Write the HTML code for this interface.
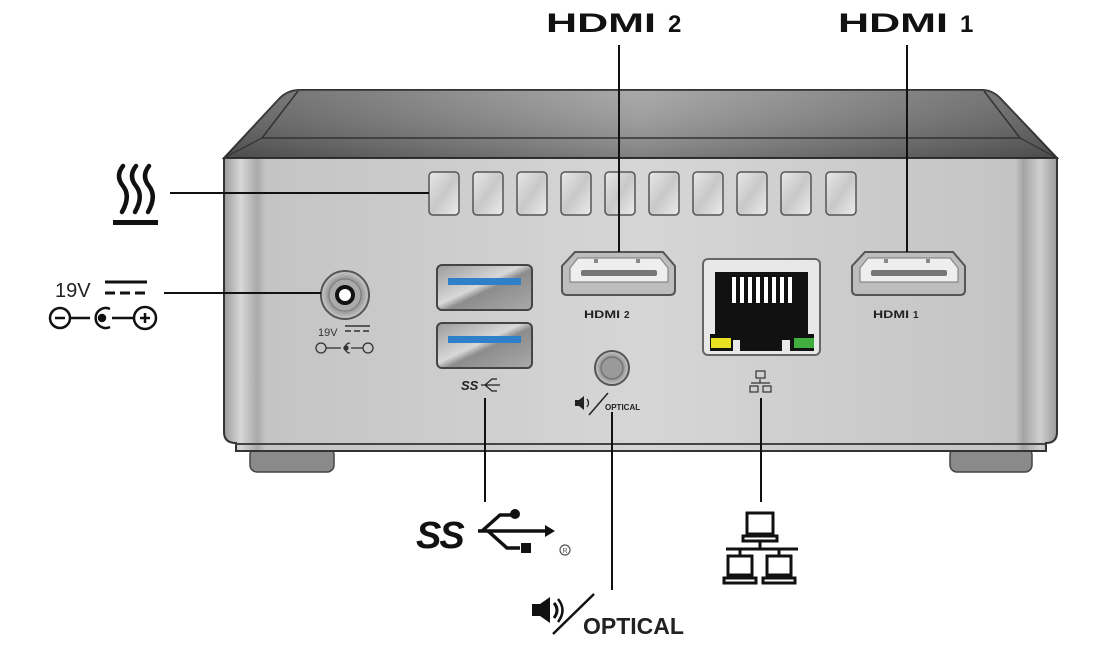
<!DOCTYPE html>
<html><head><meta charset="utf-8"><style>
html,body{margin:0;padding:0;background:#fff;}
svg{display:block;}
text{font-family:"Liberation Sans",sans-serif;}
</style></head><body>
<svg width="1107" height="651" viewBox="0 0 1107 651" xmlns="http://www.w3.org/2000/svg">
<defs>
<linearGradient id="lid" x1="0" y1="0" x2="1" y2="0">
<stop offset="0" stop-color="#5e5e5e"/><stop offset="0.5" stop-color="#a0a0a0"/><stop offset="1" stop-color="#5e5e5e"/>
</linearGradient>
<linearGradient id="lidv" x1="0" y1="0" x2="0" y2="1">
<stop offset="0" stop-color="#fff" stop-opacity="0.1"/><stop offset="1" stop-color="#000" stop-opacity="0.2"/>
</linearGradient>
<linearGradient id="body" x1="0" y1="0" x2="1" y2="0">
<stop offset="0" stop-color="#9a9a9a"/><stop offset="0.02" stop-color="#d8d8d8"/><stop offset="0.04" stop-color="#a9a9a9"/><stop offset="0.05" stop-color="#c4c4c4"/>
<stop offset="0.5" stop-color="#d6d6d6"/><stop offset="0.95" stop-color="#c4c4c4"/><stop offset="0.96" stop-color="#a4a4a4"/><stop offset="0.98" stop-color="#d0d0d0"/><stop offset="1" stop-color="#9a9a9a"/>
</linearGradient>
<linearGradient id="usb" x1="0" y1="0" x2="1" y2="1">
<stop offset="0" stop-color="#9a9a9a"/><stop offset="0.45" stop-color="#d8d8d8"/><stop offset="0.55" stop-color="#8c8c8c"/><stop offset="1" stop-color="#aaa"/>
</linearGradient>
<linearGradient id="vent" x1="0" y1="0" x2="1" y2="1">
<stop offset="0" stop-color="#e8e8e8"/><stop offset="0.5" stop-color="#c8c8c8"/><stop offset="1" stop-color="#ececec"/>
</linearGradient>
<radialGradient id="jack"><stop offset="0" stop-color="#fff"/><stop offset="0.7" stop-color="#999"/><stop offset="1" stop-color="#ccc"/></radialGradient>
</defs>

<rect x="250" y="448" width="84" height="24" rx="7" fill="#8a8a8a" stroke="#444" stroke-width="1.5"/>
<rect x="950" y="448" width="82" height="24" rx="7" fill="#8a8a8a" stroke="#444" stroke-width="1.5"/>

<path d="M224 158 L1057 158 L1057 432 Q1057 443 1046 443 L1046 451 L236 451 L236 443 Q224 443 224 432 Z" fill="url(#body)" stroke="#333" stroke-width="2"/>
<line x1="236" y1="444" x2="1046" y2="444" stroke="#444" stroke-width="2"/>

<path d="M224 158 L280 98 Q288 90 300 90 L982 90 Q992 90 1000 98 L1057 158 Z" fill="url(#lid)" stroke="#333" stroke-width="2"/>
<path d="M224 158 L280 98 Q288 90 300 90 L982 90 Q992 90 1000 98 L1057 158 Z" fill="url(#lidv)"/>
<line x1="262" y1="138" x2="1020" y2="138" stroke="#333" stroke-width="1.5"/>
<line x1="262" y1="138" x2="298" y2="91" stroke="#333" stroke-width="1.5"/>
<line x1="1020" y1="138" x2="984" y2="91" stroke="#333" stroke-width="1.5"/>
<line x1="224" y1="158" x2="262" y2="138" stroke="#333" stroke-width="1.2"/>
<line x1="1057" y1="158" x2="1020" y2="138" stroke="#333" stroke-width="1.2"/>

<g stroke="#555" stroke-width="1.5">
<rect x="429" y="172" width="30" height="43" rx="4" fill="url(#vent)"/>
<rect x="473" y="172" width="30" height="43" rx="4" fill="url(#vent)"/>
<rect x="517" y="172" width="30" height="43" rx="4" fill="url(#vent)"/>
<rect x="561" y="172" width="30" height="43" rx="4" fill="url(#vent)"/>
<rect x="605" y="172" width="30" height="43" rx="4" fill="url(#vent)"/>
<rect x="649" y="172" width="30" height="43" rx="4" fill="url(#vent)"/>
<rect x="693" y="172" width="30" height="43" rx="4" fill="url(#vent)"/>
<rect x="737" y="172" width="30" height="43" rx="4" fill="url(#vent)"/>
<rect x="781" y="172" width="30" height="43" rx="4" fill="url(#vent)"/>
<rect x="826" y="172" width="30" height="43" rx="4" fill="url(#vent)"/>
</g>

<circle cx="345" cy="295" r="24" fill="url(#jack)" stroke="#555" stroke-width="2"/>
<circle cx="345" cy="295" r="16" fill="#aaa" stroke="#777" stroke-width="1"/>
<circle cx="345" cy="295" r="8" fill="#fff" stroke="#111" stroke-width="4"/>
<text x="318" y="336" font-size="11" fill="#333">19V</text>
<line x1="345" y1="326" x2="370" y2="326" stroke="#333" stroke-width="1.5"/>
<line x1="345" y1="331" x2="370" y2="331" stroke="#333" stroke-width="1.5" stroke-dasharray="6 3"/>
<g stroke="#333" stroke-width="1.3" fill="none">
<circle cx="321" cy="348" r="5"/><line x1="326" y1="348" x2="341" y2="348"/>
<path d="M350 343 A5 5 0 1 0 350 353"/><circle cx="346" cy="348" r="2" fill="#333"/>
<line x1="351" y1="348" x2="363" y2="348"/><circle cx="368" cy="348" r="5"/>
</g>

<rect x="437" y="265" width="95" height="45" rx="5" fill="url(#usb)" stroke="#444" stroke-width="2"/>
<rect x="448" y="278" width="73" height="7" fill="#2f7fc9"/>
<rect x="437" y="323" width="95" height="45" rx="5" fill="url(#usb)" stroke="#444" stroke-width="2"/>
<rect x="448" y="336" width="73" height="7" fill="#2f7fc9"/>
<text x="461" y="390" font-size="13" font-style="italic" font-weight="bold" fill="#222">SS</text>
<path d="M481 385 L500 385 M485 385 L492 379 L497 379 M485 385 L492 391 L497 391" stroke="#222" stroke-width="1.3" fill="none"/>

<path d="M575 252 L663 252 L675 266 L675 290 Q675 295 670 295 L567 295 Q562 295 562 290 L562 266 Z" fill="#bdbdbd" stroke="#555" stroke-width="2"/>
<path d="M578 258 L660 258 L668 268 L668 282 L570 282 L570 268 Z" fill="#eee" stroke="#777" stroke-width="1"/>
<rect x="581" y="270" width="76" height="6" rx="2" fill="#777"/>
<rect x="594" y="259" width="4" height="4" fill="#888"/><rect x="636" y="259" width="4" height="4" fill="#888"/>
<text x="584" y="318" font-size="11" font-weight="bold" fill="#222" textLength="36" lengthAdjust="spacingAndGlyphs">HDMI</text><text x="624" y="318" font-size="10" font-weight="bold" fill="#222">2</text>

<circle cx="612" cy="368" r="17" fill="url(#jack)" stroke="#555" stroke-width="2"/>
<circle cx="612" cy="368" r="11" fill="#999" stroke="#666" stroke-width="1"/>
<path d="M575 400 L579 400 L584 396 L584 410 L579 406 L575 406 Z" fill="#222"/>
<path d="M587 399 Q590 403 587 407" stroke="#222" stroke-width="1.3" fill="none"/>
<line x1="589" y1="415" x2="608" y2="393" stroke="#222" stroke-width="1.5"/>
<text x="605" y="410" font-size="8" font-weight="bold" fill="#222">OPTICAL</text>

<rect x="703" y="259" width="117" height="96" rx="5" fill="#e8e8e8" stroke="#666" stroke-width="2"/>
<path d="M715 272 L808 272 L808 334 L814 334 L814 351 L790 351 L790 340 L782 340 L782 351 L740 351 L740 340 L733 340 L733 351 L710 351 L710 334 L715 334 Z" fill="#111"/>
<g fill="#fff">
<rect x="732" y="277" width="4" height="26"/><rect x="740" y="277" width="4" height="26"/><rect x="748" y="277" width="4" height="26"/><rect x="756" y="277" width="4" height="26"/>
<rect x="764" y="277" width="4" height="26"/><rect x="772" y="277" width="4" height="26"/><rect x="780" y="277" width="4" height="26"/><rect x="788" y="277" width="4" height="26"/>
</g>
<rect x="711" y="338" width="20" height="10" fill="#e8e020"/>
<rect x="794" y="338" width="20" height="10" fill="#3fae3f"/>
<g stroke="#333" stroke-width="1.2" fill="none">
<rect x="756" y="371" width="9" height="7"/><line x1="760" y1="379" x2="760" y2="383"/><line x1="751" y1="383" x2="770" y2="383"/>
<rect x="750" y="386" width="8" height="6"/><rect x="763" y="386" width="8" height="6"/>
</g>

<path d="M865 252 L953 252 L965 266 L965 290 Q965 295 960 295 L857 295 Q852 295 852 290 L852 266 Z" fill="#bdbdbd" stroke="#555" stroke-width="2"/>
<path d="M868 258 L950 258 L958 268 L958 282 L860 282 L860 268 Z" fill="#eee" stroke="#777" stroke-width="1"/>
<rect x="871" y="270" width="76" height="6" rx="2" fill="#777"/>
<rect x="884" y="259" width="4" height="4" fill="#888"/><rect x="926" y="259" width="4" height="4" fill="#888"/>
<text x="873" y="318" font-size="11" font-weight="bold" fill="#222" textLength="36" lengthAdjust="spacingAndGlyphs">HDMI</text><text x="913" y="318" font-size="10" font-weight="bold" fill="#222">1</text>

<g stroke="#111" stroke-width="2">
<line x1="619" y1="45" x2="619" y2="252"/>
<line x1="907" y1="45" x2="907" y2="252"/>
<line x1="170" y1="193" x2="429" y2="193"/>
<line x1="164" y1="293" x2="321" y2="293"/>
<line x1="485" y1="398" x2="485" y2="502"/>
<line x1="612" y1="412" x2="612" y2="590"/>
<line x1="761" y1="398" x2="761" y2="502"/>
</g>

<text x="546" y="32" font-size="27" font-weight="bold" fill="#111" textLength="110" lengthAdjust="spacingAndGlyphs">HDMI</text>
<text x="668" y="32" font-size="24" font-weight="bold" fill="#111">2</text>
<text x="838" y="32" font-size="27" font-weight="bold" fill="#111" textLength="110" lengthAdjust="spacingAndGlyphs">HDMI</text>
<text x="960" y="32" font-size="24" font-weight="bold" fill="#111">1</text>

<g stroke="#111" stroke-width="4.5" fill="none" stroke-linecap="round">
<path d="M123 166 Q115 176 123 186 Q131 196 122 212"/>
<path d="M136 166 Q128 176 136 186 Q144 196 135 212"/>
<path d="M149 166 Q141 176 149 186 Q157 196 148 212"/>
</g>
<rect x="113" y="220" width="45" height="5" fill="#111"/>

<text x="55" y="297" font-size="20" fill="#222">19V</text>
<line x1="105" y1="282" x2="147" y2="282" stroke="#111" stroke-width="3"/>
<line x1="105" y1="293" x2="147" y2="293" stroke="#111" stroke-width="3" stroke-dasharray="10 5"/>
<g stroke="#111" stroke-width="2.5" fill="none">
<circle cx="60" cy="318" r="10"/><line x1="55" y1="318" x2="65" y2="318"/>
<line x1="70" y1="318" x2="90" y2="318"/>
<path d="M110 309 A10 10 0 1 0 110 327"/><circle cx="102" cy="318" r="3" fill="#111"/>
<line x1="112" y1="318" x2="133" y2="318"/>
<circle cx="145" cy="318" r="11"/><line x1="140" y1="318" x2="150" y2="318"/><line x1="145" y1="313" x2="145" y2="323"/>
</g>

<text x="416" y="548" font-size="38" font-style="italic" font-weight="bold" fill="#111" letter-spacing="-2">SS</text>
<g stroke="#111" stroke-width="3.5" fill="none">
<line x1="478" y1="531" x2="548" y2="531"/>
<path d="M482 531 L500 515 L512 515"/>
<path d="M488 531 L507 548 L520 548"/>
</g>
<circle cx="515" cy="514" r="5" fill="#111"/>
<rect x="521" y="543" width="10" height="10" fill="#111"/>
<path d="M545 525 L555 531 L545 537 Z" fill="#111"/>
<circle cx="565" cy="550" r="5" fill="none" stroke="#555" stroke-width="1.2"/>
<text x="562.5" y="553" font-size="7" fill="#555">R</text>

<g stroke="#111" stroke-width="3" fill="none">
<rect x="747" y="513" width="26" height="21"/>
<rect x="743" y="536" width="34" height="5"/>
<line x1="760" y1="541" x2="760" y2="548"/>
<line x1="726" y1="549" x2="798" y2="549"/>
<line x1="740" y1="549" x2="740" y2="556"/><line x1="779" y1="549" x2="779" y2="556"/>
<rect x="728" y="556" width="24" height="19"/>
<rect x="767" y="556" width="24" height="19"/>
<rect x="724" y="578" width="32" height="5"/>
<rect x="763" y="578" width="32" height="5"/>
</g>

<path d="M532 604 L540 604 L550 597 L550 623 L540 616 L532 616 Z" fill="#111"/>
<path d="M554 603 Q560 610 554 618" stroke="#111" stroke-width="3" fill="none"/>
<path d="M558 599 Q567 610 558 622" stroke="#111" stroke-width="2.5" fill="none"/>
<line x1="553" y1="634" x2="594" y2="594" stroke="#111" stroke-width="2.5"/>
<text x="583" y="634" font-size="23" font-weight="bold" fill="#222">OPTICAL</text>
</svg>
</body></html>
